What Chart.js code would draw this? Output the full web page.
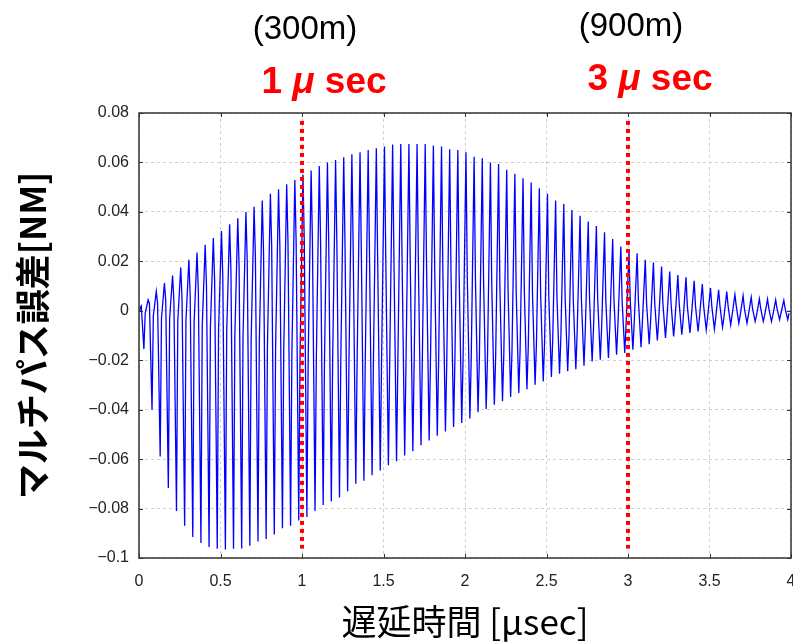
<!DOCTYPE html>
<html>
<head>
<meta charset="utf-8">
<script src="https://cdn.jsdelivr.net/npm/chart.js@4.4.1/dist/chart.umd.min.js"></script>
<style>
  html, body { margin: 0; padding: 0; background: #fff; }
  #myChart { display: block; }
</style>
</head>
<body>
<canvas id="myChart" width="793" height="644"></canvas>
<script>
// one cycle of the oscillation every 0.05 usec, 4 samples per cycle
const cyclePeriod = 0.05;
const sampleOffsets = [0.006, 0.014, 0.03, 0.038];

// peak of each cycle
const peakValues = [
  0.0011, 0.0044, 0.0078, 0.0112, 0.0143, 0.0175, 0.0206, 0.0236, 0.0267, 0.0294,
  0.0323, 0.0350, 0.0374, 0.0399, 0.0421, 0.0446, 0.0473, 0.0492, 0.0512, 0.0529,
  0.0550, 0.0567, 0.0586, 0.0600, 0.0610, 0.0621, 0.0633, 0.0641, 0.0650, 0.0657,
  0.0664, 0.0673, 0.0675, 0.0675, 0.0675, 0.0675, 0.0668, 0.0664, 0.0653, 0.0650,
  0.0641, 0.0623, 0.0617, 0.0600, 0.0594, 0.0570, 0.0554, 0.0536, 0.0519, 0.0496,
  0.0473, 0.0446, 0.0432, 0.0408, 0.0384, 0.0361, 0.0343, 0.0318, 0.0290, 0.0260,
  0.0240, 0.0233, 0.0206, 0.0195, 0.0179, 0.0159, 0.0145, 0.0136, 0.0121, 0.0108,
  0.0092, 0.0085, 0.0078, 0.0065, 0.0061, 0.0055, 0.0048, 0.0047, 0.0044, 0.0042
];
// shoulder on the falling stroke
const downShoulder = [
  0.002, 0.003, 0.003, 0.004, 0.004, 0.005, 0.006, 0.008, 0.010, 0.012,
  0.014, 0.016, 0.018, 0.020, 0.022, 0.024, 0.026, 0.027, 0.028, 0.028,
  0.028, 0.028, 0.028, 0.027, 0.027, 0.026, 0.025, 0.024, 0.023, 0.022,
  0.021, 0.021, 0.020, 0.020, 0.019, 0.019, 0.018, 0.017, 0.016, 0.015,
  0.014, 0.013, 0.012, 0.011, 0.010, 0.009, 0.008, 0.008, 0.007, 0.007,
  0.006, 0.006, 0.006, 0.005, 0.005, 0.005, 0.005, 0.004, 0.004, 0.004,
  0.004, 0.004, 0.003, 0.003, 0.003, 0.003, 0.003, 0.002, 0.002, 0.002,
  0.002, 0.002, 0.002, 0.002, 0.001, 0.001, 0.001, 0.001, 0.001, 0.001
];
// trough of each cycle (lower envelope)
const troughValues = [
  -0.0155, -0.0400, -0.0589, -0.0717, -0.0810, -0.0870, -0.0915, -0.0939, -0.0955, -0.0963,
  -0.0966, -0.0963, -0.0962, -0.0950, -0.0933, -0.0923, -0.0905, -0.0880, -0.0870, -0.0848,
  -0.0834, -0.0810, -0.0786, -0.0770, -0.0755, -0.0730, -0.0700, -0.0687, -0.0665, -0.0646,
  -0.0625, -0.0609, -0.0585, -0.0568, -0.0544, -0.0525, -0.0505, -0.0488, -0.0470, -0.0454,
  -0.0436, -0.0410, -0.0397, -0.0380, -0.0366, -0.0349, -0.0333, -0.0317, -0.0299, -0.0286,
  -0.0268, -0.0255, -0.0245, -0.0236, -0.0222, -0.0205, -0.0198, -0.0191, -0.0178, -0.0171,
  -0.0158, -0.0147, -0.0135, -0.0120, -0.0110, -0.0104, -0.0097, -0.0090, -0.0084, -0.0077,
  -0.0074, -0.0066, -0.0057, -0.0050, -0.0050, -0.0043, -0.0043, -0.0043, -0.0036, -0.0036
];
// shoulder on the rising stroke
const upShoulder = [
  -0.001, -0.002, -0.003, -0.003, -0.004, -0.004, -0.005, -0.006, -0.007, -0.008,
  -0.009, -0.010, -0.011, -0.012, -0.013, -0.014, -0.015, -0.016, -0.017, -0.018,
  -0.019, -0.019, -0.020, -0.020, -0.020, -0.021, -0.021, -0.021, -0.021, -0.021,
  -0.021, -0.021, -0.021, -0.021, -0.021, -0.021, -0.021, -0.021, -0.020, -0.020,
  -0.020, -0.020, -0.019, -0.019, -0.018, -0.017, -0.016, -0.015, -0.014, -0.013,
  -0.012, -0.011, -0.010, -0.009, -0.008, -0.008, -0.007, -0.007, -0.006, -0.006,
  -0.005, -0.005, -0.005, -0.004, -0.004, -0.004, -0.004, -0.003, -0.003, -0.003,
  -0.003, -0.003, -0.002, -0.002, -0.002, -0.002, -0.002, -0.002, -0.001, -0.001
];

// red dotted markers
const markerTimes = [1, 3];
const markerTop = 0.0768;
const markerBottom = -0.0962;
const distanceLabels = ['(300m)', '(900m)'];
const delayDigits = ['1', '3'];

// axes
const xTicks = [0, 0.5, 1, 1.5, 2, 2.5, 3, 3.5, 4];
const xTickLabels = ['0', '0.5', '1', '1.5', '2', '2.5', '3', '3.5', '4'];
const yTicks = [-0.1, -0.08, -0.06, -0.04, -0.02, 0, 0.02, 0.04, 0.06, 0.08];
const yTickLabels = ['\u22120.1', '\u22120.08', '\u22120.06', '\u22120.04', '\u22120.02', '0', '0.02', '0.04', '0.06', '0.08'];

// build the line: start, then peak / shoulder / trough / shoulder per cycle
var errPoints = [{x: 0, y: 0}];
for (var k = 0; k < peakValues.length; k++) {
  var t0 = k * cyclePeriod;
  errPoints.push({x: t0 + sampleOffsets[0], y: peakValues[k]});
  errPoints.push({x: t0 + sampleOffsets[1], y: downShoulder[k]});
  errPoints.push({x: t0 + sampleOffsets[2], y: troughValues[k]});
  errPoints.push({x: t0 + sampleOffsets[3], y: upShoulder[k]});
}

var markerSets = markerTimes.map(function (t) {
  return {
    data: [{x: t, y: markerTop}, {x: t, y: markerBottom}],
    borderColor: '#ff0000',
    borderWidth: 4,
    borderDash: [4, 4],
    borderCapStyle: 'butt',
    pointRadius: 0,
    fill: false
  };
});

const tickFont = {family: "'Liberation Sans', Arial, sans-serif", size: 16};

// box round the plot, small inward ticks and the texts above the plot
const framePlugin = {
  id: 'frame',
  afterDraw: function (chart) {
    var ctx = chart.ctx;
    var a = chart.chartArea;
    var xs = chart.scales.x, ys = chart.scales.y;
    ctx.save();
    ctx.strokeStyle = '#333';
    ctx.lineWidth = 1;
    ctx.beginPath();
    xTicks.forEach(function (v) {
      var px = Math.round(xs.getPixelForValue(v)) + 0.5;
      ctx.moveTo(px, a.top); ctx.lineTo(px, a.top + 4);
      ctx.moveTo(px, a.bottom); ctx.lineTo(px, a.bottom - 4);
    });
    yTicks.forEach(function (v) {
      var py = Math.round(ys.getPixelForValue(v)) + 0.5;
      ctx.moveTo(a.left, py); ctx.lineTo(a.left + 4, py);
      ctx.moveTo(a.right, py); ctx.lineTo(a.right - 4, py);
    });
    ctx.stroke();
    ctx.lineWidth = 1.5;
    ctx.strokeRect(a.left, a.top, a.right - a.left, a.bottom - a.top);

    // labels above the markers
    ctx.textBaseline = 'alphabetic';
    var distY = [39, 36];
    var secY = [93, 90];
    markerTimes.forEach(function (t, i) {
      var px = xs.getPixelForValue(t);
      ctx.fillStyle = '#000';
      ctx.font = "33px 'Liberation Sans', Arial, sans-serif";
      ctx.textAlign = 'center';
      ctx.fillText(distanceLabels[i], px + 3, distY[i]);

      // "1 μ sec" in red, mu slanted
      var bold = "bold 37px 'Liberation Sans', Arial, sans-serif";
      var ital = "italic bold 37px 'Liberation Sans', Arial, sans-serif";
      ctx.fillStyle = '#ff0000';
      ctx.font = bold;
      var w1 = ctx.measureText(delayDigits[i] + ' ').width;
      var w3 = ctx.measureText(' sec').width;
      ctx.font = ital;
      var w2 = ctx.measureText('\u03bc').width;
      var x0 = px + 22 - (w1 + w2 + w3) / 2;
      ctx.textAlign = 'left';
      ctx.font = bold;
      ctx.fillText(delayDigits[i] + ' ', x0, secY[i]);
      ctx.font = ital;
      ctx.fillText('\u03bc', x0 + w1, secY[i]);
      ctx.font = bold;
      ctx.fillText(' sec', x0 + w1 + w2, secY[i]);
    });
    ctx.restore();
  }
};

var ctx = document.getElementById('myChart').getContext('2d');
var chart = new Chart(ctx, {
  type: 'line',
  data: {
    datasets: markerSets.concat([{
      data: errPoints,
      borderColor: '#0000ff',
      borderWidth: 1.3,
      pointRadius: 0,
      tension: 0,
      fill: false
    }])
  },
  options: {
    responsive: false,
    devicePixelRatio: 1,
    animation: false,
    parsing: false,
    layout: {padding: {top: 113, right: 2, left: 0, bottom: 0}},
    plugins: {
      legend: {display: false},
      tooltip: {enabled: false}
    },
    scales: {
      x: {
        type: 'linear',
        min: 0,
        max: 4,
        afterBuildTicks: function (scale) {
          scale.ticks = xTicks.map(function (v) { return {value: v}; });
        },
        afterFit: function (scale) {
          scale.height = 86;
          scale.paddingLeft = 0;
          scale.paddingRight = 0;
        },
        ticks: {
          color: '#222',
          font: tickFont,
          padding: 14,
          maxRotation: 0,
          autoSkip: false,
          callback: function (v, i) { return xTickLabels[i]; }
        },
        grid: {color: '#cfcfcf', lineWidth: 1, drawTicks: false},
        border: {display: false, dash: [3, 3]},
        title: {
          display: true,
          text: '遅延時間 [µsec]',
          color: '#000',
          font: {family: "'Noto Sans CJK JP', sans-serif", size: 35},
          padding: {top: 0, bottom: 1}
        }
      },
      y: {
        type: 'linear',
        min: -0.1,
        max: 0.08,
        afterBuildTicks: function (scale) {
          scale.ticks = yTicks.map(function (v) { return {value: v}; });
        },
        afterFit: function (scale) {
          scale.width = 139;
          scale.paddingTop = 0;
          scale.paddingBottom = 0;
        },
        ticks: {
          color: '#222',
          font: tickFont,
          padding: 10,
          autoSkip: false,
          callback: function (v, i) { return yTickLabels[i]; }
        },
        grid: {color: '#cfcfcf', lineWidth: 1, drawTicks: false},
        border: {display: false, dash: [3, 3]},
        title: {
          display: true,
          text: 'マルチパス誤差[NM]',
          color: '#000',
          font: {family: "'Noto Sans CJK JP', sans-serif", size: 35, weight: 'bold'},
          padding: {top: 12, bottom: 0}
        }
      }
    }
  },
  plugins: [framePlugin]
});
</script>
</body>
</html>
